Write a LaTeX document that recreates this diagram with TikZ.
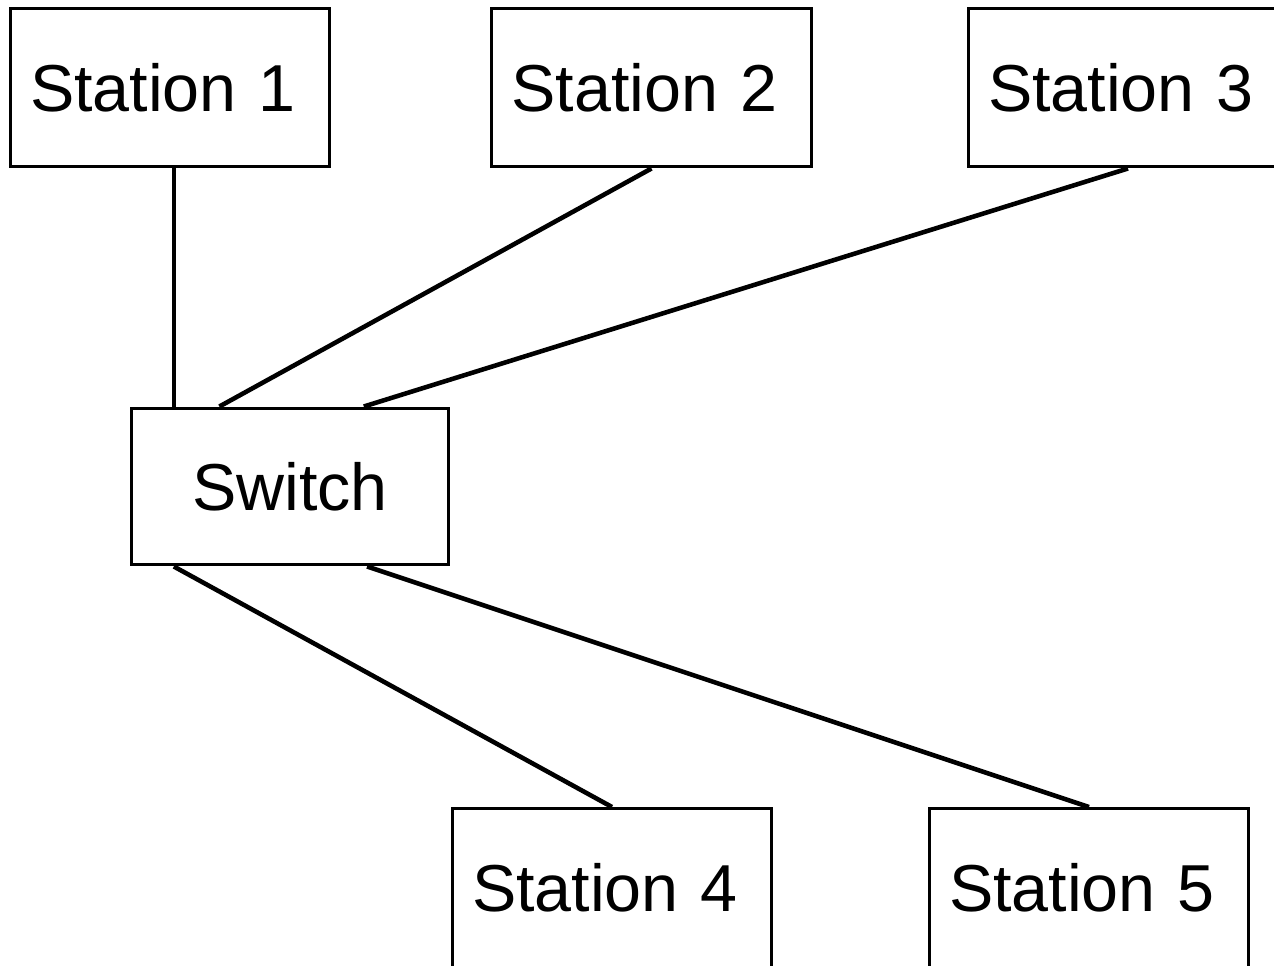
\documentclass[tikz,border=0pt]{standalone}
\usepackage{fontspec}
\setmainfont{Liberation Sans}
\usetikzlibrary{calc}
\begin{document}
\begin{tikzpicture}[x=0.02cm,y=-0.02cm,
  station/.style={draw,line width=1.7pt,text width=5.6cm,align=left,inner xsep=0.4cm,
    minimum height=3.18cm,font=\fontsize{37.8}{44}\selectfont},
  hub/.style={draw,line width=1.7pt,minimum width=6.36cm,minimum height=3.14cm,
    font=\fontsize{37.8}{44}\selectfont},
  link/.style={line width=2.6pt}]
  \clip (0,0) rectangle (1274,966);
  % stations and switch
  \node[station] (st1) at (170,87.5) {Station 1};
  \node[station] (st2) at (651.5,87.5) {Station 2};
  \node[station] (st3) at (1128,87.5) {Station 3};
  \node[hub] (sw) at (290,486.5) {Switch};
  \node[station] (st4) at (612,888) {Station 4};
  \node[station] (st5) at (1089,888) {Station 5};
  % links
  \coordinate (swa) at ($(sw.north west)!.138!(sw.north east)$);
  \coordinate (swb) at ($(sw.north west)!.28!(sw.north east)$);
  \coordinate (swc) at ($(sw.north west)!.73!(sw.north east)$);
  \coordinate (swd) at ($(sw.south west)!.138!(sw.south east)$);
  \coordinate (swe) at ($(sw.south west)!.74!(sw.south east)$);
  \draw[link] (st1.south -| swa) -- (swa);
  \draw[link] (st2.south) -- (swb);
  \draw[link] (st3.south) -- (swc);
  \draw[link] (swd) -- (st4.north);
  \draw[link] (swe) -- (st5.north);
\end{tikzpicture}
\end{document}
